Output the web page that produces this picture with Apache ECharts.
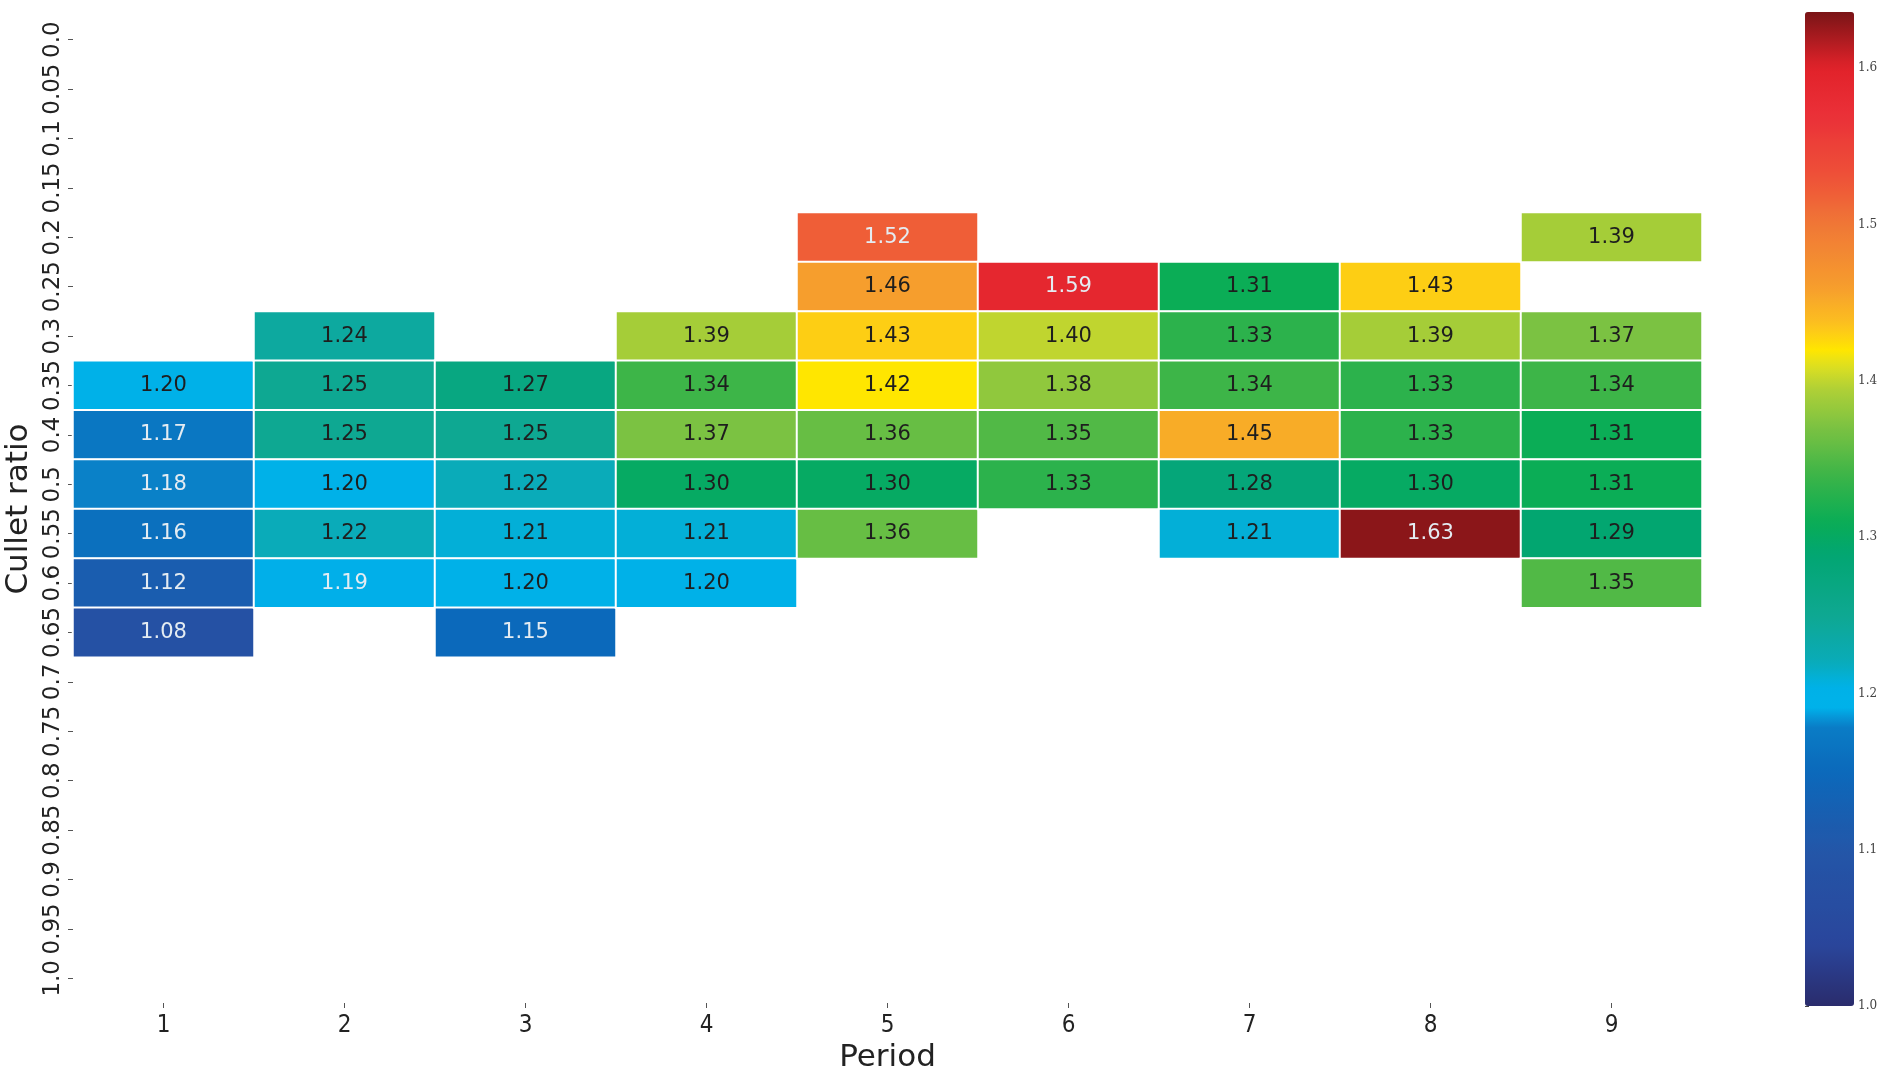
<!DOCTYPE html>
<html>
<head>
<meta charset="utf-8">
<script src="https://cdn.jsdelivr.net/npm/echarts@6/dist/echarts.min.js"></script>
<style>
html,body{margin:0;padding:0;background:#fff;}
#chart{width:1887px;height:1075px;}
</style>
</head>
<body>
<div id="chart"></div>
<script>
// Categories
const periods = ['1','2','3','4','5','6','7','8','9'];
const ratios = ['0.0','0.05','0.1','0.15','0.2','0.25','0.3','0.35','0.4','0.5','0.55','0.6','0.65','0.7','0.75','0.8','0.85','0.9','0.95','1.0'];
// Values per period, aligned with ratios (null = empty cell)
const period1 = [null,null,null,null,null,null,null,1.20,1.17,1.18,1.16,1.12,1.08,null,null,null,null,null,null,null];
const period2 = [null,null,null,null,null,null,1.24,1.25,1.25,1.20,1.22,1.19,null,null,null,null,null,null,null,null];
const period3 = [null,null,null,null,null,null,null,1.27,1.25,1.22,1.21,1.20,1.15,null,null,null,null,null,null,null];
const period4 = [null,null,null,null,null,null,1.39,1.34,1.37,1.30,1.21,1.20,null,null,null,null,null,null,null,null];
const period5 = [null,null,null,null,1.52,1.46,1.43,1.42,1.36,1.30,1.36,null,null,null,null,null,null,null,null,null];
const period6 = [null,null,null,null,null,1.59,1.40,1.38,1.35,1.33,null,null,null,null,null,null,null,null,null,null];
const period7 = [null,null,null,null,null,1.31,1.33,1.34,1.45,1.28,1.21,null,null,null,null,null,null,null,null,null];
const period8 = [null,null,null,null,null,1.43,1.39,1.33,1.33,1.30,1.63,null,null,null,null,null,null,null,null,null];
const period9 = [null,null,null,null,1.39,null,1.37,1.34,1.31,1.31,1.29,1.35,null,null,null,null,null,null,null,null];
const allPeriods = [period1,period2,period3,period4,period5,period6,period7,period8,period9];
// Colorbar
const cbMin = 1.0, cbMax = 1.636;
const cbTicks = [1.0,1.1,1.2,1.3,1.4,1.5,1.6];

// Colormap stops (style)
const stops = [
  [1.00,'#2a2c6c'],[1.04,'#2a469c'],[1.10,'#2356a8'],[1.15,'#0b69bb'],
  [1.18,'#0a7ec6'],[1.19,'#00b2ec'],[1.205,'#00b1e6'],[1.22,'#0aabb8'],[1.25,'#0ea892'],
  [1.29,'#02a670'],[1.31,'#0aad55'],[1.34,'#3db548'],[1.37,'#7bc242'],
  [1.395,'#b0d036'],[1.41,'#dfe020'],[1.42,'#ffe600'],[1.435,'#fcc21f'],
  [1.46,'#f69d2d'],[1.50,'#f07736'],[1.53,'#ee5238'],[1.57,'#ea3038'],
  [1.60,'#e2222a'],[1.636,'#7a1416']
];
function hex(c){return [parseInt(c.substr(1,2),16),parseInt(c.substr(3,2),16),parseInt(c.substr(5,2),16)];}
function colorAt(v){
  if(v<=stops[0][0]) return stops[0][1];
  for(let i=1;i<stops.length;i++){
    if(v<=stops[i][0]){
      const a=stops[i-1],b=stops[i];const t=(v-a[0])/(b[0]-a[0]);
      const ca=hex(a[1]),cb=hex(b[1]);
      return 'rgb('+ca.map((x,k)=>Math.round(x+(cb[k]-x)*t)).join(',')+')';
    }
  }
  return stops[stops.length-1][1];
}
const N=256, cmap=[];
for(let i=0;i<=N;i++) cmap.push(colorAt(cbMin+(cbMax-cbMin)*i/N));

const data=[];
allPeriods.forEach((arr,xi)=>arr.forEach((v,yi)=>{ if(v!==null) data.push([xi,yi,v]); }));
const seriesData = data.map(d=>{
  const v=d[2];
  const light = v<1.195 || v>1.5;
  return {value:d,label:{color: light ? '#e4ecf2' : '#1e1e1e'}};
});

const chart = echarts.init(document.getElementById('chart'));
const font = 'DejaVu Sans';
chart.setOption({
  backgroundColor:'#fff',
  animation:false,
  grid:[
    {left:73,right:185,top:15,bottom:72,outerBoundsMode:'none',containLabel:false},
    {left:1805,width:49,top:12,height:994,outerBoundsMode:'none',containLabel:false}
  ],
  xAxis:[
    {type:'category',data:periods,gridIndex:0,
     axisLine:{show:false},
     axisTick:{show:true,alignWithLabel:true,length:5,lineStyle:{color:'#555'}},
     axisLabel:{fontFamily:'DejaVu Sans Condensed, DejaVu Sans',fontSize:24,color:'#222',margin:11},
     splitLine:{show:false},
     name:'Period',nameLocation:'middle',nameGap:39,
     nameTextStyle:{fontFamily:font,fontSize:31,color:'#222'}},
    {type:'value',gridIndex:1,show:false,min:0,max:1}
  ],
  yAxis:[
    {type:'category',data:ratios,inverse:true,gridIndex:0,
     axisLine:{show:false},
     axisTick:{show:true,alignWithLabel:true,length:5,lineStyle:{color:'#555'}},
     axisLabel:{fontFamily:font,fontSize:23,color:'#222',rotate:90,margin:8,interval:0},
     splitLine:{show:false},
     name:'Cullet ratio',nameLocation:'middle',nameGap:38,
     nameTextStyle:{fontFamily:font,fontSize:31,color:'#222'}},
    {type:'value',gridIndex:1,position:'right',min:cbMin,max:cbMax,
     axisLine:{show:false},
     axisTick:{show:true,length:4,customValues:cbTicks,lineStyle:{color:'#444'}},
     axisLabel:{fontFamily:'DejaVu Serif',fontSize:12,color:'#444',margin:4,customValues:cbTicks,
       formatter:v=>v.toFixed(1)},
     splitLine:{show:false}}
  ],
  visualMap:{
    type:'continuous',min:cbMin,max:cbMax,calculable:false,
    orient:'vertical',left:1805,top:12,itemWidth:49,itemHeight:994,padding:0,
    text:null,hoverLink:false,seriesIndex:0,
    inRange:{color:cmap}
  },
  series:[{
    type:'heatmap',xAxisIndex:0,yAxisIndex:0,data:seriesData,
    itemStyle:{borderColor:'#fff',borderWidth:2},
    label:{show:true,fontFamily:font,fontSize:21,
      formatter:p=>p.value[2].toFixed(2)},
    emphasis:{disabled:true}
  }]
});
</script>
</body>
</html>
